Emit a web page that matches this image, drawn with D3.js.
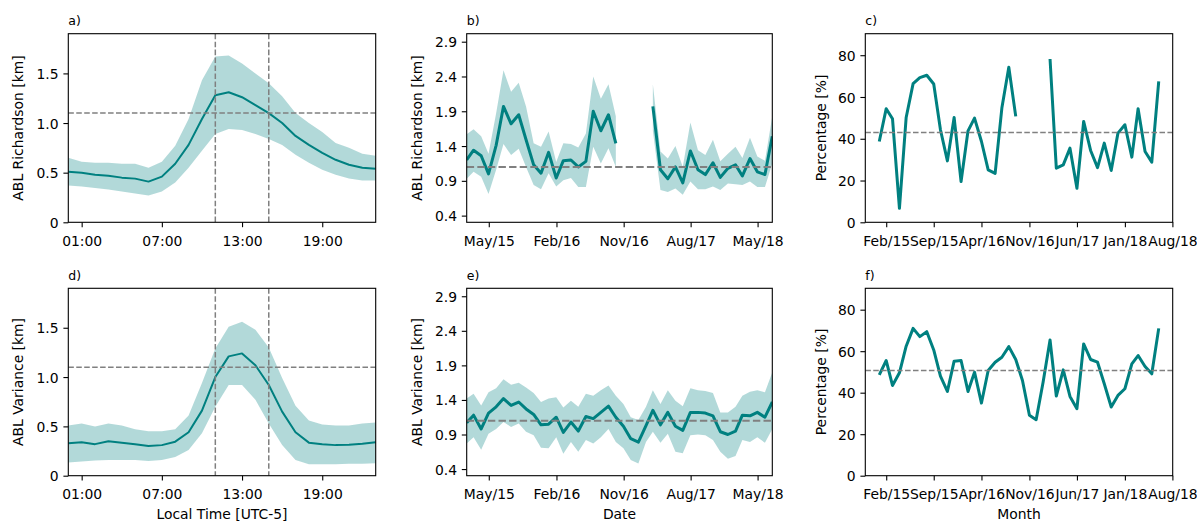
<!DOCTYPE html>
<html><head><meta charset="utf-8">
<script src="https://cdn.jsdelivr.net/npm/d3@7"></script>
<style>
body{margin:0;background:#fff}
svg{display:block}
text{font-family:"DejaVu Sans",sans-serif;fill:#000}
</style>
</head><body>
<svg id="chart" width="1197" height="522"></svg>
<script>
// ---------- DATA ----------
const hours = [0,1,2,3,4,5,6,7,8,9,10,11,12,13,14,15,16,17,18,19,20,21,22,23];
const hourTicks = [1,7,13,19];
const hourTickLabels = ["01:00","07:00","13:00","19:00"];

// a) ABL Richardson diurnal cycle (mean and band)
const richHourMean  = [0.51,0.50,0.48,0.47,0.45,0.44,0.41,0.46,0.59,0.78,1.04,1.28,1.31,1.26,1.18,1.10,1.00,0.87,0.78,0.70,0.63,0.58,0.55,0.54];
const richHourUpper = [0.65,0.61,0.60,0.60,0.59,0.59,0.55,0.61,0.77,1.04,1.43,1.67,1.68,1.60,1.50,1.40,1.27,1.10,1.00,0.91,0.80,0.75,0.69,0.67];
const richHourLower = [0.37,0.36,0.345,0.33,0.31,0.29,0.27,0.31,0.40,0.55,0.72,0.89,0.94,0.93,0.89,0.84,0.78,0.68,0.60,0.53,0.48,0.44,0.42,0.42];

// d) ABL Variance diurnal cycle
const varHourMean  = [0.33,0.34,0.32,0.35,0.335,0.32,0.30,0.31,0.345,0.44,0.66,1.00,1.21,1.24,1.12,0.92,0.65,0.44,0.335,0.32,0.31,0.315,0.325,0.34];
const varHourUpper = [0.51,0.53,0.50,0.53,0.51,0.47,0.45,0.45,0.47,0.61,0.94,1.29,1.51,1.56,1.48,1.30,0.99,0.71,0.56,0.52,0.51,0.51,0.53,0.54];
const varHourLower = [0.135,0.145,0.155,0.16,0.16,0.16,0.15,0.16,0.19,0.26,0.43,0.70,0.92,0.92,0.77,0.53,0.31,0.16,0.115,0.115,0.115,0.12,0.12,0.125];

const hourRefLevel = 1.1;
const hourRefTimes = [11, 15];

// months (Jan 2015 .. Jun 2018)
const months = ["2015-01","2015-02","2015-03","2015-04","2015-05","2015-06","2015-07","2015-08","2015-09","2015-10","2015-11","2015-12",
"2016-01","2016-02","2016-03","2016-04","2016-05","2016-06","2016-07","2016-08","2016-09","2016-10","2016-11","2016-12",
"2017-01","2017-02","2017-03","2017-04","2017-05","2017-06","2017-07","2017-08","2017-09","2017-10","2017-11","2017-12",
"2018-01","2018-02","2018-03","2018-04","2018-05","2018-06"];

// b) monthly ABL Richardson
const richMonMean  = [1.20,1.34,1.26,1.00,1.41,1.97,1.72,1.85,1.49,1.13,1.01,1.31,0.94,1.19,1.20,1.10,1.18,1.90,1.62,1.85,1.44,null,null,null,null,1.97,1.06,0.93,1.10,0.87,1.33,1.06,0.99,1.16,0.95,1.08,1.13,0.97,1.22,1.03,0.99,1.54];
const richMonUpper = [1.57,1.64,1.54,1.29,1.87,2.49,2.18,2.31,1.97,1.44,1.39,1.61,1.17,1.44,1.43,1.38,1.58,2.40,2.08,2.29,1.83,null,null,null,null,2.29,1.32,1.22,1.40,1.10,1.74,1.34,1.27,1.49,1.18,1.29,1.39,1.23,1.52,1.25,1.19,1.83];
const richMonLower = [0.93,1.03,0.96,0.71,1.06,1.43,1.27,1.36,1.10,0.84,0.78,1.01,0.82,0.91,0.94,0.81,0.81,1.39,1.15,1.37,1.10,null,null,null,null,1.62,0.77,0.74,0.79,0.70,0.89,0.78,0.78,0.82,0.77,0.86,0.85,0.84,0.89,0.81,0.81,1.15];

// e) monthly ABL Variance
const varMonMean  = [1.07,1.18,0.98,1.21,1.30,1.42,1.32,1.37,1.27,1.19,1.04,1.05,1.15,0.93,1.08,0.95,1.16,1.13,1.22,1.31,1.15,1.02,0.84,0.79,1.03,1.25,1.04,1.22,1.02,0.96,1.22,1.22,1.21,1.17,0.94,0.90,0.95,1.18,1.17,1.22,1.15,1.37];
const varMonUpper = [1.42,1.49,1.32,1.51,1.57,1.70,1.62,1.65,1.58,1.50,1.37,1.42,1.44,1.29,1.39,1.30,1.49,1.46,1.54,1.61,1.46,1.34,1.15,1.11,1.30,1.54,1.34,1.54,1.39,1.31,1.57,1.54,1.53,1.50,1.22,1.22,1.30,1.46,1.52,1.54,1.51,1.80];
const varMonLower = [0.77,0.86,0.68,0.91,0.98,1.08,1.01,1.06,0.94,0.89,0.71,0.70,0.86,0.62,0.79,0.65,0.82,0.77,0.86,0.98,0.79,0.70,0.53,0.48,0.79,0.94,0.78,0.91,0.65,0.63,0.89,0.90,0.89,0.82,0.65,0.55,0.59,0.82,0.79,0.86,0.78,0.98];
const monRefLevel = 1.1;

// c) percentage (Richardson)
const richPct = [38.7,54.4,49.6,6.7,50.2,66.4,69.3,70.4,66.2,44.3,29.4,50.2,19.5,43.8,49.9,38.7,25.1,23.4,54.7,74.2,50.7,null,null,null,null,78.2,25.9,27.5,35.5,16.3,48.3,34.4,26.2,37.9,24.8,42.7,46.7,31.2,54.4,33.9,28.8,67.5];
const richPctRef = 43.0;
// f) percentage (Variance)
const varPct = [48.6,55.5,43.5,49.6,62.4,71.0,67.0,69.4,60.6,48.0,40.6,55.2,55.5,40.6,49.9,35.0,50.7,54.7,57.1,62.2,56.0,45.9,29.1,27.0,45.0,65.4,38.4,51.0,38.2,32.3,63.5,56.0,54.7,44.3,33.1,38.7,41.9,53.9,57.9,52.6,49.1,71.0];
const varPctRef = 50.7;

const dateTicksKm  = ["2015-05","2016-02","2016-11","2017-08","2018-05"];
const dateTicksPct = ["2015-02","2015-09","2016-04","2016-11","2017-06","2018-01","2018-08"];
const kmTicksHour = [0,0.5,1.0,1.5];
const kmTicksMon  = [0.4,0.9,1.4,1.9,2.4,2.9];
const pctTicks    = [0,20,40,60,80];

// ---------- DRAW ----------
const svg = d3.select("#chart");
const FS = 13.9;
const TEAL = "#008080";
const parseM = d3.utcParse("%Y-%m");
const fmtM = d3.utcFormat("%b/%y");
const monthStart = months.map(parseM);
const monthEnd = monthStart.map(d => d3.utcDay.offset(d3.utcMonth.offset(d, 1), -1));

const cols = [{l:68.3, r:375.7},{l:466.7, r:772.3},{l:865.3, r:1172.7}];
const rows = [{t:33.7, b:222.3},{t:288.3, b:475.7}];
let clipId = 0;

function panel(o) {
  const c = cols[o.col], r = rows[o.row];
  const w = c.r - c.l, h = r.b - r.t;
  const g = svg.append("g").attr("transform", `translate(${c.l},${r.t})`);
  const x = o.xScale.range([0, w]);
  const y = d3.scaleLinear().domain(o.yDomain).range([h, 0]);
  const id = "clip" + (clipId++);
  g.append("clipPath").attr("id", id).append("rect").attr("width", w).attr("height", h);
  const plot = g.append("g").attr("clip-path", `url(#${id})`);
  const idx = o.xs.map((_, i) => i);
  if (o.lo) {
    const area = d3.area().defined(i => o.lo[i] != null && o.hi[i] != null)
      .x(i => x(o.xs[i])).y0(i => y(o.lo[i])).y1(i => y(o.hi[i]));
    plot.append("path").attr("d", area(idx)).attr("fill", TEAL).attr("fill-opacity", 0.3).attr("stroke", "none");
  }
  const line = d3.line().defined(i => o.ys[i] != null).x(i => x(o.xs[i])).y(i => y(o.ys[i]));
  plot.append("path").attr("d", line(idx)).attr("fill", "none").attr("stroke", TEAL)
    .attr("stroke-width", o.lw).attr("stroke-linejoin", "round").attr("stroke-linecap", "butt");
  const dash = o.dw === 2 ? "7.4,3.2" : "5.55,2.4";
  (o.hlines || []).forEach(v => plot.append("line").attr("x1", 0).attr("x2", w).attr("y1", y(v)).attr("y2", y(v))
    .attr("stroke", "#808080").attr("stroke-width", o.dw).attr("stroke-dasharray", dash));
  (o.vlines || []).forEach(v => plot.append("line").attr("y1", 0).attr("y2", h).attr("x1", x(v)).attr("x2", x(v))
    .attr("stroke", "#808080").attr("stroke-width", o.dw).attr("stroke-dasharray", dash));

  // axes
  const xa = d3.axisBottom(x).tickValues(o.xTicks).tickFormat(o.xFmt).tickSize(4.9).tickSizeOuter(0).tickPadding(4.9);
  const gx = g.append("g").attr("transform", `translate(0,${h})`).call(xa);
  const ya = d3.axisLeft(y).tickValues(o.yTicks).tickFormat(o.yFmt).tickSize(4.9).tickSizeOuter(0).tickPadding(4.9);
  const gy = g.append("g").call(ya);
  [gx, gy].forEach(a => {
    a.select(".domain").remove();
    a.selectAll(".tick line").attr("stroke", "#000").attr("stroke-width", 1.1);
    a.selectAll(".tick text").attr("font-size", FS).attr("font-family", "DejaVu Sans").attr("fill", "#000");
  });
  gx.selectAll(".tick text").attr("y", 23.5).attr("dy", null);
  gy.selectAll(".tick text").attr("x", -9.7).attr("dy", "0.36em");

  g.append("rect").attr("width", w).attr("height", h).attr("fill", "none").attr("stroke", "#000").attr("stroke-width", 1.1);

  g.append("text").attr("x", 0).attr("y", -8.3).attr("font-size", 12.5).text(o.title);
  g.append("text").attr("transform", `translate(${-o.ylOff},${h/2}) rotate(-90)`)
    .attr("text-anchor", "middle").attr("font-size", FS).text(o.ylabel);
  if (o.xlabel) g.append("text").attr("x", w/2).attr("y", h + 43.7).attr("text-anchor", "middle")
    .attr("font-size", FS).text(o.xlabel);
}

const hourFmt = (d, i) => hourTickLabels[i];
const kmHourFmt = d => d === 0 ? "0" : d3.format(".1f")(d);
const kmMonFmt = d3.format(".1f");
const pctFmt = d3.format("d");

const xHour = () => d3.scaleLinear().domain([hours[0], hours[hours.length - 1]]);
const xMonKm = () => d3.scaleUtc().domain(d3.extent(monthEnd));
const ext = d3.extent(monthStart);
const pad = (ext[1] - ext[0]) * 0.05;
const xMonPct = () => d3.scaleUtc().domain([new Date(+ext[0] - pad), new Date(+ext[1] + pad)]);

const tKm = dateTicksKm.map(parseM), tPct = dateTicksPct.map(parseM);

panel({row:0, col:0, title:"a)", ylabel:"ABL Richardson [km]", xScale:xHour(), yDomain:[0,1.9],
  xs:hours, ys:richHourMean, lo:richHourLower, hi:richHourUpper, lw:2, dw:1.5,
  hlines:[hourRefLevel], vlines:hourRefTimes, xTicks:hourTicks, xFmt:hourFmt, yTicks:kmTicksHour, yFmt:kmHourFmt, ylOff:45});
panel({row:1, col:0, title:"d)", ylabel:"ABL Variance [km]", xlabel:"Local Time [UTC-5]", xScale:xHour(), yDomain:[0,1.9],
  xs:hours, ys:varHourMean, lo:varHourLower, hi:varHourUpper, lw:2, dw:1.5,
  hlines:[hourRefLevel], vlines:hourRefTimes, xTicks:hourTicks, xFmt:hourFmt, yTicks:kmTicksHour, yFmt:kmHourFmt, ylOff:45});
panel({row:0, col:1, title:"b)", ylabel:"ABL Richardson [km]", xScale:xMonKm(), yDomain:[0.304,3.015],
  xs:monthEnd, ys:richMonMean, lo:richMonLower, hi:richMonUpper, lw:3, dw:2,
  hlines:[monRefLevel], xTicks:tKm, xFmt:fmtM, yTicks:kmTicksMon, yFmt:kmMonFmt, ylOff:44.5});
panel({row:1, col:1, title:"e)", ylabel:"ABL Variance [km]", xlabel:"Date", xScale:xMonKm(), yDomain:[0.304,3.015],
  xs:monthEnd, ys:varMonMean, lo:varMonLower, hi:varMonUpper, lw:3, dw:2,
  hlines:[monRefLevel], xTicks:tKm, xFmt:fmtM, yTicks:kmTicksMon, yFmt:kmMonFmt, ylOff:44.5});
panel({row:0, col:2, title:"c)", ylabel:"Percentage [%]", xScale:xMonPct(), yDomain:[0,90.3],
  xs:monthStart, ys:richPct, lw:3, dw:1.5,
  hlines:[richPctRef], xTicks:tPct, xFmt:fmtM, yTicks:pctTicks, yFmt:pctFmt, ylOff:39.5});
panel({row:1, col:2, title:"f)", ylabel:"Percentage [%]", xlabel:"Month", xScale:xMonPct(), yDomain:[0,90.3],
  xs:monthStart, ys:varPct, lw:3, dw:1.5,
  hlines:[varPctRef], xTicks:tPct, xFmt:fmtM, yTicks:pctTicks, yFmt:pctFmt, ylOff:39.5});
</script>
</body></html>
